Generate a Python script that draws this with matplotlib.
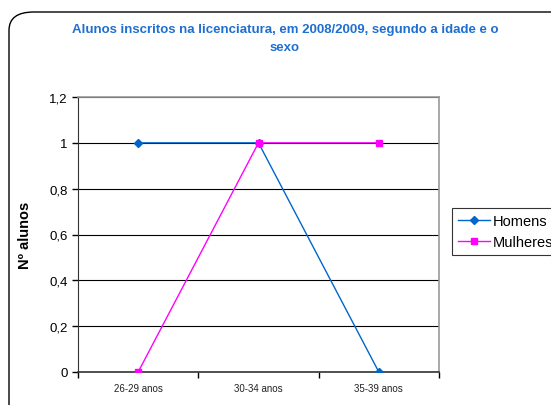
import matplotlib.pyplot as plt
from matplotlib.patches import FancyBboxPatch
from matplotlib.ticker import FixedLocator, NullFormatter

# data
categorias = ["26-29 anos", "30-34 anos", "35-39 anos"]
homens = [1, 1, 0]
mulheres = [0, 1, 1]
yticks = [0, 0.2, 0.4, 0.6, 0.8, 1.0, 1.2]
ytick_labels = ["0", "0,2", "0,4", "0,6", "0,8", "1", "1,2"]

plt.rcParams["font.family"] = ["Liberation Sans", "DejaVu Sans"]

fig = plt.figure(figsize=(5.51, 4.06), dpi=100)

# rounded outer frame (runs off the right and bottom edge)
frame = FancyBboxPatch((9 / 551, -0.2), 1.2, 1.2 - 13 / 406,
                       boxstyle="round,pad=0,rounding_size=0.045",
                       transform=fig.transFigure, fill=False,
                       edgecolor="black", linewidth=1.0)
fig.patches.append(frame)

ax = fig.add_axes([78 / 551, 33 / 406, 361 / 551, 275 / 406])

x = list(range(len(categorias)))
ax.plot(x, homens, color="#0066CC", lw=1, marker="D", ms=4, label="Homens", zorder=3)
ax.plot(x, mulheres, color="#FF00FF", lw=1, marker="s", ms=5, label="Mulheres", zorder=3)

ax.set_xlim(-0.5, 2.5)
ax.set_ylim(0, 1.2)
ax.set_yticks(yticks)
ax.set_yticklabels(ytick_labels, fontsize=9.5)
ax.yaxis.grid(True, color="black", lw=0.8)
ax.set_axisbelow(True)

ax.xaxis.set_major_locator(FixedLocator([-0.5, 0.5, 1.5, 2.5]))
ax.xaxis.set_major_formatter(NullFormatter())
ax.xaxis.set_minor_locator(FixedLocator(x))
ax.set_xticklabels(categorias, minor=True, fontsize=7, color="#222222")
ax.tick_params(axis="x", which="major", direction="out", length=4, width=1)
ax.tick_params(axis="x", which="minor", length=0, pad=8)
ax.tick_params(axis="y", direction="out", length=4, width=1)

for s in ["top", "right"]:
    ax.spines[s].set_color("#999999")
    ax.spines[s].set_linewidth(1.2)
ax.spines["left"].set_color("#333333")
ax.spines["bottom"].set_color("#333333")
ax.spines["bottom"].set_linewidth(1.2)

ax.set_ylabel("Nº alunos", fontsize=10.5, fontweight="bold", labelpad=12)

fig.text(285 / 551, 1 - 30 / 406,
         "Alunos inscritos na licenciatura, em 2008/2009, segundo a idade e o",
         ha="center", va="center", fontsize=9.5, fontweight="bold", color="#1F6FD0")
fig.text(285 / 551, 1 - 48 / 406, "sexo",
         ha="center", va="center", fontsize=9.5, fontweight="bold", color="#1F6FD0")

leg = fig.legend(loc="upper left", bbox_to_anchor=(452 / 551, 1 - 209 / 406),
                 fontsize=10.5, frameon=True, fancybox=False, edgecolor="black",
                 borderpad=0.4, handlelength=2.2, handletextpad=0.2, labelspacing=0.5,
                 borderaxespad=0)
leg.get_frame().set_linewidth(0.8)
leg._legend_box.align = "left"

fig.savefig("out.png", dpi=100)
